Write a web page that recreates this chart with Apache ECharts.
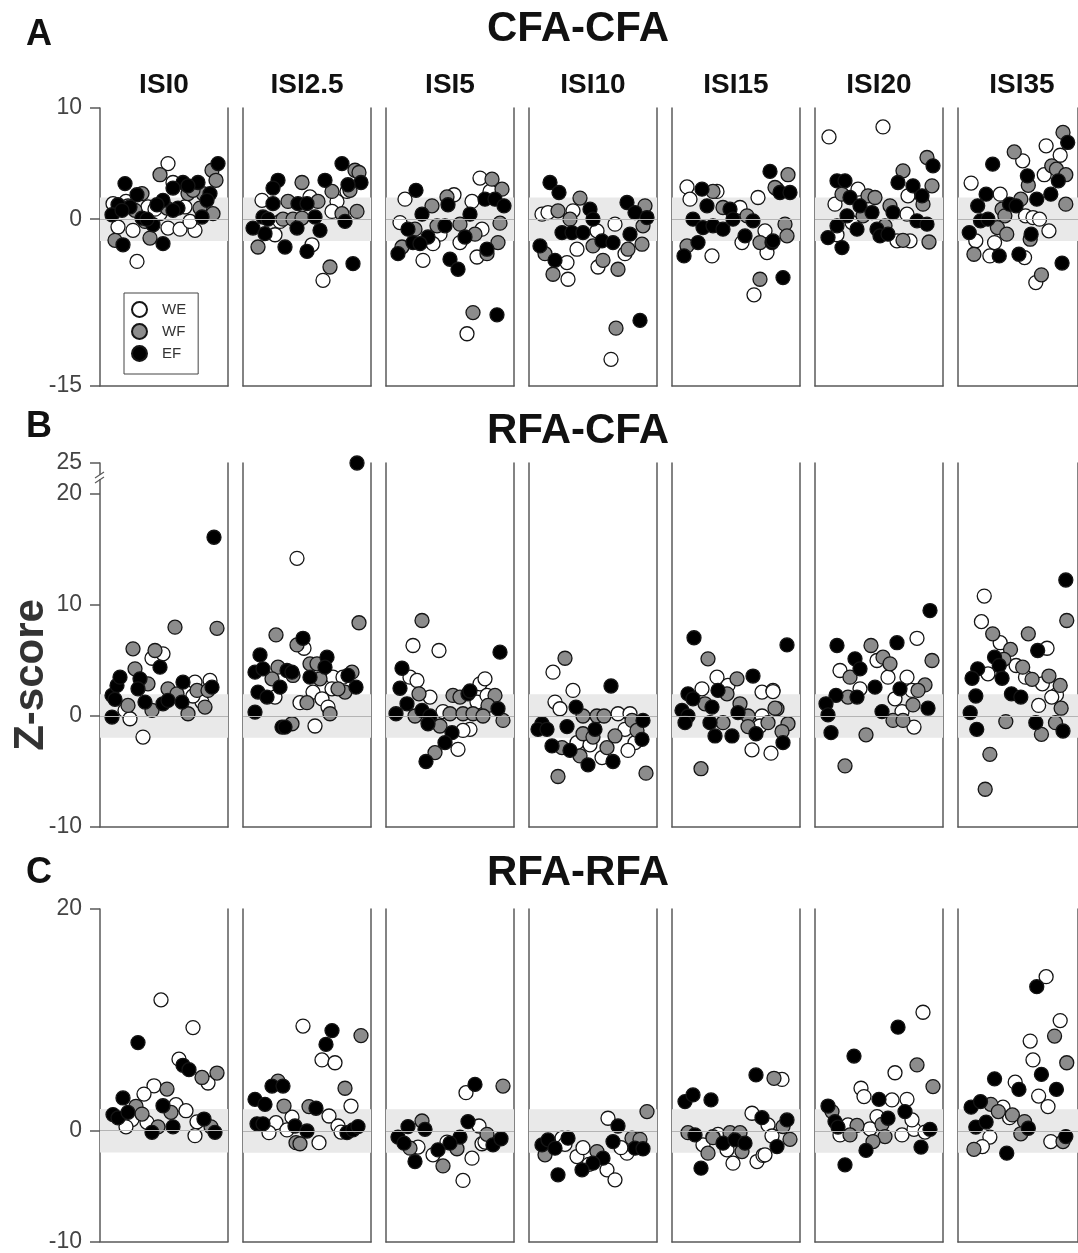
<!DOCTYPE html>
<html><head><meta charset="utf-8">
<script src="https://cdn.jsdelivr.net/npm/echarts@6.0.0/dist/echarts.min.js"></script>
<style>html,body{margin:0;padding:0;background:#fff}#c{width:1078px;height:1253px}</style>
</head><body><div id="c"></div>
<script>
// ---------------- DATA ----------------
const ISI = ['ISI0','ISI2.5','ISI5','ISI10','ISI15','ISI20','ISI35'];
const GROUPS = ['WE','WF','EF'];
const ROW_TITLES = ['CFA-CFA','RFA-CFA','RFA-RFA'];
const ROW_LETTERS = ['A','B','C'];
const TICKS_A = [-15,0,10];
const TICKS_B = [-10,0,10,20,25];
const TICKS_C = [-10,0,20];
// each point: [position within panel (0-128), z-score]
const CFA_CFA_WE = [
 [[68,5.0],[73,3.3],[13,1.4],[48,1.1],[18,-0.7],[33,-1.0],[68,-0.8],[80,-0.9],[95,-1.0],[90,-0.2],[37,-3.8],[60,0.5],[85,1.1],[26,1.6],[55,0.9]],
 [[19,1.7],[104,2.5],[67,2.0],[94,1.6],[89,0.7],[37,-0.2],[32,-1.4],[69,-2.3],[80,-5.5]],
 [[19,1.8],[94,3.7],[104,2.5],[68,2.2],[86,1.6],[14,-0.3],[96,-0.9],[54,-1.35],[47,-2.2],[74,-2.1],[37,-3.7],[91,-3.4],[81,-10.3]],
 [[13,0.45],[19,0.6],[44,0.75],[86,-0.45],[68,-1.05],[48,-2.7],[38,-3.9],[39,-5.4],[69,-4.3],[96,-3.1],[82,-12.6]],
 [[15,2.9],[45,2.5],[18,1.8],[86,1.95],[68,1.05],[93,-1.05],[70,-2.1],[95,-3.0],[40,-3.3],[82,-6.8]],
 [[14,7.4],[68,8.3],[43,2.7],[20,1.35],[93,2.1],[92,0.45],[22,-1.4],[82,-1.95],[95,-1.95],[37,-0.3]],
 [[94,6.6],[109,5.75],[69,5.25],[92,4.0],[14,3.25],[45,2.25],[72,0.3],[80,0.15],[87,0.0],[97,-1.05],[19,-1.95],[39,-2.1],[34,-3.3],[71,-3.45],[83,-5.7]]
];
const CFA_CFA_WF = [
 [[112,4.4],[116,3.5],[60,4.0],[88,2.3],[103,2.3],[42,2.3],[35,0.8],[67,1.0],[100,1.0],[113,0.5],[45,-0.2],[15,-1.9],[50,-1.7],[28,1.2],[93,2.6]],
 [[112,4.4],[116,4.2],[59,3.3],[89,2.5],[107,2.6],[75,1.6],[45,1.6],[114,0.7],[99,0.5],[40,0.0],[50,0.0],[59,0.1],[15,-2.5],[87,-4.3]],
 [[106,3.6],[116,2.7],[61,2.0],[46,1.2],[29,-0.9],[51,-0.6],[74,-0.45],[114,-0.36],[89,-1.35],[112,-2.1],[16,-2.5],[101,-3.1],[87,-8.4]],
 [[51,1.9],[29,0.75],[41,0.0],[116,1.2],[114,-0.6],[16,-3.1],[64,-2.4],[113,-2.25],[99,-2.7],[24,-4.95],[74,-3.7],[89,-4.5],[87,-9.8]],
 [[41,2.5],[105,2.7],[116,4.0],[103,2.85],[51,1.05],[75,0.3],[88,-2.1],[15,-2.4],[113,-0.45],[115,-1.5],[88,-5.4]],
 [[112,5.55],[88,4.35],[117,3.0],[27,2.25],[53,2.1],[60,1.95],[75,1.2],[108,1.35],[70,-0.6],[88,-1.9],[114,-2.05],[48,0.3]],
 [[112,7.8],[60,6.05],[100,4.8],[105,4.5],[75,3.05],[115,4.0],[67,1.8],[47,0.9],[115,1.35],[50,0.3],[42,-0.75],[52,-1.35],[77,-1.8],[17,-3.15],[89,-5.0]]
];
const CFA_CFA_EF = [
 [[118,5.0],[25,3.2],[83,3.3],[98,3.3],[73,2.8],[110,2.3],[37,2.2],[63,1.7],[18,1.3],[30,1.1],[57,1.3],[78,1.0],[107,1.7],[102,0.2],[12,0.4],[42,0.1],[53,-0.5],[23,-2.3],[63,-2.2],[73,0.8],[22,0.8],[47,0.0],[88,3.0]],
 [[99,5.0],[118,3.3],[35,3.5],[82,3.5],[30,2.8],[105,3.1],[30,1.4],[55,1.4],[64,1.4],[20,0.2],[10,-0.8],[25,0.0],[22,-1.3],[54,-0.8],[72,0.2],[77,-1.0],[102,-0.2],[42,-2.5],[64,-2.9],[110,-4.0]],
 [[30,2.6],[62,1.3],[36,0.45],[84,0.45],[99,1.8],[109,1.8],[118,1.2],[22,-0.9],[59,-0.6],[79,-1.6],[42,-1.6],[27,-2.1],[12,-3.1],[34,-2.2],[64,-3.6],[72,-4.5],[101,-2.7],[111,-8.6]],
 [[21,3.3],[30,2.4],[61,0.9],[64,0.0],[98,1.5],[106,0.6],[118,0.15],[11,-2.4],[33,-1.2],[43,-1.2],[54,-1.2],[73,-1.95],[84,-2.1],[101,-1.35],[26,-3.7],[111,-9.1]],
 [[30,2.7],[98,4.3],[108,2.4],[118,2.4],[35,1.2],[58,0.9],[21,0.0],[31,-0.75],[41,-0.6],[51,-0.9],[61,0.0],[81,-0.15],[73,-1.5],[100,-2.1],[26,-2.1],[12,-3.3],[101,-1.95],[111,-5.25]],
 [[118,4.8],[83,3.3],[98,3.0],[22,3.45],[30,3.45],[35,1.95],[107,2.1],[45,1.2],[57,0.6],[32,0.3],[78,0.6],[102,-0.15],[112,-0.45],[22,-0.6],[42,-0.9],[62,-0.9],[13,-1.65],[65,-1.5],[73,-1.35],[27,-2.55]],
 [[117,6.9],[37,4.95],[74,3.9],[107,3.45],[30,2.25],[99,2.25],[84,1.8],[55,1.35],[62,1.2],[21,1.2],[24,-0.15],[32,0.0],[12,-1.2],[78,-1.35],[44,-3.3],[65,-3.15],[111,-3.95]]
];
const RFA_CFA_WE = [
 [[25,0.5],[30,-0.25],[43,-1.9],[52,5.2],[63,5.6],[95,3.05],[102,1.25],[110,3.2],[93,1.8]],
 [[54,14.2],[61,6.1],[32,1.7],[90,3.5],[100,3.5],[89,2.45],[70,2.15],[79,1.55],[57,1.2],[85,0.8],[72,-0.9]],
 [[27,6.35],[53,5.9],[24,3.5],[31,3.2],[44,1.7],[84,-1.2],[77,-1.3],[91,1.25],[94,2.9],[99,3.35],[101,1.85],[57,0.4],[72,-3.0]],
 [[24,3.95],[44,2.3],[26,1.25],[31,0.65],[89,0.2],[101,0.2],[96,-1.2],[106,-2.4],[48,-2.4],[73,-3.75],[99,-3.1],[61,-2.6]],
 [[45,3.5],[30,2.45],[56,2.75],[90,2.15],[101,2.3],[90,0.0],[88,-0.9],[80,-3.05],[99,-3.35],[101,2.2]],
 [[102,7.0],[25,4.1],[62,5.0],[73,3.5],[92,3.5],[45,2.45],[80,1.55],[97,2.3],[87,0.4],[99,-1.0]],
 [[28,10.8],[25,8.5],[45,6.6],[95,6.1],[62,4.55],[72,3.5],[32,3.8],[90,2.9],[105,1.9],[100,1.7],[86,0.95]]
];
const RFA_CFA_WF = [
 [[33,6.05],[35,4.25],[48,2.9],[28,0.95],[52,0.5],[55,5.9],[68,2.45],[75,8.0],[77,2.0],[88,0.2],[97,2.3],[105,0.8],[108,2.3],[117,7.9]],
 [[116,8.4],[33,7.3],[54,6.4],[35,4.4],[29,3.35],[50,3.65],[67,4.7],[74,4.7],[77,3.35],[109,3.95],[102,2.15],[95,2.45],[64,1.2],[87,0.2],[49,-0.7]],
 [[36,8.6],[33,2.0],[29,0.0],[54,-0.9],[67,1.85],[74,1.7],[109,1.85],[102,0.95],[117,-0.4],[64,0.2],[77,0.2],[87,0.2],[97,0.0],[49,-3.3]],
 [[36,5.2],[54,0.0],[68,0.0],[75,0.0],[103,-0.4],[54,-1.6],[64,-1.9],[86,-1.8],[108,-1.3],[33,-2.85],[51,-3.6],[78,-2.85],[29,-5.45],[117,-5.15]],
 [[36,5.15],[65,3.35],[55,2.0],[33,1.1],[68,1.1],[51,-0.6],[76,0.0],[96,-0.6],[105,0.65],[76,-0.95],[29,-4.75],[103,0.7],[116,-0.7],[110,-1.4]],
 [[117,5.0],[56,6.35],[68,5.3],[75,4.7],[35,3.5],[110,2.8],[103,2.3],[33,1.7],[98,1.0],[78,-0.4],[88,-0.4],[51,-1.7],[30,-4.5]],
 [[116,8.6],[37,7.4],[75,7.4],[56,6.0],[49,5.1],[69,4.4],[79,3.3],[97,3.6],[109,2.75],[110,0.7],[51,-0.5],[104,-0.6],[89,-1.65],[34,-3.45],[29,-6.6]]
];
const RFA_CFA_EF = [
 [[12,-0.1],[12,1.85],[17,2.75],[20,3.5],[15,1.5],[40,3.35],[38,2.45],[45,1.25],[60,4.4],[63,1.1],[68,1.4],[83,3.05],[82,1.25],[112,2.6],[114,16.1]],
 [[114,25],[60,7.0],[17,5.5],[12,3.95],[20,4.25],[44,4.1],[49,3.95],[37,2.6],[15,2.15],[24,1.7],[67,3.5],[84,5.3],[82,4.4],[105,3.65],[113,2.6],[12,0.35],[39,-1.0],[42,-1.0]],
 [[114,5.75],[16,4.3],[14,2.5],[21,1.1],[10,0.2],[36,0.5],[44,0.0],[42,-0.7],[66,-1.5],[82,2.0],[84,2.25],[112,0.65],[59,-2.4],[40,-4.1]],
 [[82,2.7],[47,0.8],[13,-0.7],[9,-1.2],[18,-1.2],[38,-0.95],[114,-0.4],[66,-1.2],[113,-2.1],[23,-2.7],[41,-3.1],[59,-4.4],[84,-4.1]],
 [[22,7.05],[81,3.6],[16,2.0],[21,1.55],[46,2.3],[40,0.8],[10,0.5],[16,0.0],[13,-0.6],[38,-0.6],[66,0.3],[43,-1.8],[60,-1.8],[84,-1.6],[115,6.4],[111,-2.4]],
 [[115,9.5],[22,6.35],[82,6.6],[40,5.15],[45,4.25],[60,2.6],[85,2.45],[21,1.85],[11,1.1],[42,1.7],[113,0.7],[67,0.4],[13,0.1],[16,-1.5]],
 [[115,12.25],[85,5.9],[39,5.3],[44,4.55],[21,4.25],[15,3.4],[47,3.4],[57,2.0],[67,1.7],[19,1.8],[13,0.3],[83,-0.6],[20,-1.2],[112,-1.35]]
];
const RFA_RFA_WE = [
 [[61,11.8],[93,9.3],[79,6.45],[108,4.3],[54,4.05],[44,3.3],[76,2.35],[86,1.8],[32,1.0],[26,0.35],[47,0.75],[97,0.8],[95,-0.45]],
 [[60,9.45],[79,6.4],[92,6.15],[108,2.25],[49,1.25],[86,1.35],[33,0.75],[26,-0.15],[44,0.1],[95,0.45],[98,-0.1],[76,-1.05]],
 [[80,3.45],[93,0.45],[32,-1.45],[47,-2.15],[61,-1.0],[96,-1.15],[99,-1.0],[86,-2.45],[77,-4.45]],
 [[79,1.15],[98,-2.0],[92,-1.5],[33,-0.65],[36,-1.2],[48,-2.3],[54,-1.5],[60,-3.0],[78,-3.5],[86,-4.4]],
 [[80,1.6],[96,0.55],[46,-0.3],[41,-0.5],[55,-1.7],[31,-1.25],[61,-2.9],[85,-2.75],[91,-2.2],[100,-0.45],[110,4.65],[93,-2.15]],
 [[108,10.7],[80,5.25],[46,3.85],[49,3.1],[77,2.8],[92,2.85],[33,0.55],[25,-0.35],[55,0.2],[62,1.3],[87,-0.35],[99,0.15],[97,1.0],[110,-0.1]],
 [[94,13.9],[109,9.95],[77,8.1],[80,6.4],[61,4.4],[86,3.15],[96,2.2],[48,2.15],[55,1.2],[34,-0.55],[26,-1.4],[99,-0.95]]
];
const RFA_RFA_WF = [
 [[102,4.8],[117,5.2],[67,3.75],[71,1.65],[36,2.2],[42,1.5],[58,0.35],[111,0.35]],
 [[118,8.6],[35,4.5],[102,3.85],[41,2.25],[66,2.2],[53,-1.05],[57,-1.15]],
 [[117,4.05],[36,0.9],[101,-0.3],[24,-1.55],[71,-1.6],[57,-3.15]],
 [[118,1.75],[103,-0.65],[111,-0.75],[16,-2.15],[68,-1.85]],
 [[102,4.75],[16,-0.15],[58,-0.15],[68,-0.15],[41,-0.6],[70,-1.85],[36,-2.0],[111,0.4],[118,-0.75]],
 [[102,5.95],[118,4.0],[17,1.75],[42,0.5],[35,-0.35],[67,0.6],[70,-0.5],[58,-0.95]],
 [[103,8.55],[116,6.15],[35,2.4],[43,1.75],[58,1.45],[71,0.85],[67,-0.25],[17,-1.65],[112,-0.95]]
];
const RFA_RFA_EF = [
 [[38,7.95],[83,5.9],[89,5.5],[23,2.95],[63,2.25],[13,1.45],[18,1.15],[28,1.65],[52,-0.15],[73,0.35],[104,1.05],[115,-0.15]],
 [[89,9.05],[83,7.8],[29,4.05],[40,4.05],[12,2.85],[22,2.4],[73,2.05],[14,0.65],[20,0.65],[52,0.45],[64,0.0],[104,-0.15],[110,0.1],[115,0.4]],
 [[89,4.2],[22,0.4],[39,0.15],[82,0.85],[12,-0.55],[18,-1.1],[74,-0.55],[64,-1.1],[52,-1.7],[107,-1.25],[115,-0.7],[29,-2.75]],
 [[89,0.45],[84,-0.95],[106,-1.55],[114,-1.6],[13,-1.25],[19,-0.8],[26,-1.55],[39,-0.65],[74,-2.45],[64,-2.9],[53,-3.5],[29,-3.95]],
 [[84,5.05],[13,2.65],[21,3.25],[39,2.8],[90,1.2],[23,-0.35],[51,-1.1],[63,-0.8],[73,-1.1],[29,-3.35],[115,1.0],[105,-1.4]],
 [[83,9.35],[39,6.75],[64,2.85],[90,1.75],[13,2.25],[20,0.85],[23,0.35],[73,1.15],[115,0.15],[51,-1.75],[106,-1.45],[30,-3.05]],
 [[84,13.0],[89,5.1],[39,4.7],[65,3.75],[105,3.75],[14,2.15],[24,2.65],[75,0.25],[19,0.35],[30,0.8],[52,-2.0],[115,-0.5]]
];
const BAND = [-1.96, 1.96];

// ---------------- LAYOUT / STYLE ----------------
const FONT = '"Liberation Sans", Arial, Helvetica, sans-serif';
const LINE = '#5a5a5a';
const FILL = {WE:'#ffffff', WF:'#8c8c8c', EF:'#000000'};
const P_LEFT = 100, P_STEP = 143, P_W = 128;
const rows = [
  {top:108, height:278, min:-15, max:10, ticks:TICKS_A, data:[CFA_CFA_WE, CFA_CFA_WF, CFA_CFA_EF]},
  {top:463, height:364, min:-10, max:25, ticks:TICKS_B, breaks:[{start:20, end:25, gap:2.79}], data:[RFA_CFA_WE, RFA_CFA_WF, RFA_CFA_EF]},
  {top:909, height:333, min:-10, max:20, ticks:TICKS_C, data:[RFA_RFA_WE, RFA_RFA_WF, RFA_RFA_EF]}
];

const grid=[], xAxis=[], yAxis=[], series=[];
const lineStyle = {color:LINE, width:1.5};
rows.forEach((row, r) => {
  ISI.forEach((name, c) => {
    const g = r*7 + c;
    grid.push({left:P_LEFT + c*P_STEP, top:row.top, width:P_W, height:row.height, containLabel:false});
    xAxis.push({type:'value', gridIndex:g, min:0, max:128, axisLine:{show:true, onZero:false, lineStyle},
      axisTick:{show:false}, axisLabel:{show:false}, splitLine:{show:false}});
    // data axis (carries the scale, ticks and labels)
    const yData = {type:'value', gridIndex:g, min:row.min, max:row.max, position:'left', splitLine:{show:false},
      axisLine:{show:false, onZero:false},
      axisTick:{show:c===0, customValues:row.ticks, length:10, lineStyle},
      axisLabel:{show:c===0, customValues:row.ticks, margin:18, fontSize:23, color:'#444', fontFamily:FONT}};
    if (row.breaks) { yData.breaks = row.breaks; yData.breakArea = {show:false}; }
    yAxis.push(yData);
    // panel frame lines (continuous)
    ['left','right'].forEach(pos => yAxis.push({type:'value', gridIndex:g, min:row.min, max:row.max, position:pos,
      splitLine:{show:false}, axisLine:{show:true, onZero:false, lineStyle}, axisTick:{show:false}, axisLabel:{show:false}}));
    const yi = 3*g;
    series.push({type:'scatter', xAxisIndex:g, yAxisIndex:yi, data:[], silent:true, z:1,
      markArea:{silent:true, itemStyle:{color:'#e9e9e9'}, data:[[{yAxis:BAND[0]},{yAxis:BAND[1]}]]},
      markLine:{silent:true, symbol:['none','none'], label:{show:false}, lineStyle:{color:'#b4b4b4', width:1, type:'solid'}, data:[{yAxis:0}]}});
    GROUPS.forEach((grp, k) => {
      series.push({type:'scatter', name:grp, xAxisIndex:g, yAxisIndex:yi, z:3, symbolSize:14,
        itemStyle:{color:FILL[grp], borderColor:'#151515', borderWidth:1.3, opacity:1},
        data:row.data[k][c]});
    });
  });
});

const graphic = [];
const txt = (x, y, text, size) => graphic.push({type:'text', x, y, style:{text, fontSize:size, fontWeight:'bold', fontFamily:FONT, fill:'#111', align:'center', verticalAlign:'middle'}});
ROW_LETTERS.forEach((L, i) => txt(39, [35, 427, 873][i], L, 36));
ROW_TITLES.forEach((T, i) => txt(578, [29, 431, 873][i], T, 42));
ISI.forEach((s, c) => txt(P_LEFT + c*P_STEP + P_W/2, 85, s, 28));
graphic.push({type:'text', x:31, y:675, rotation:Math.PI/2, style:{text:'Z-score', fontSize:42, fontWeight:'bold', fontFamily:FONT, fill:'#333', align:'center', verticalAlign:'middle'}});
// axis-break marks on the row-B axis
graphic.push({type:'rect', shape:{x:96, y:475, width:8, height:4}, style:{fill:'#fff'}, z:100});
graphic.push({type:'line', shape:{x1:95, y1:478, x2:104, y2:472}, style:{stroke:LINE, lineWidth:1.2}, z:101});
graphic.push({type:'line', shape:{x1:95, y1:483, x2:104, y2:477}, style:{stroke:LINE, lineWidth:1.2}, z:101});

const chart = echarts.init(document.getElementById('c'), null, {renderer:'canvas'});
chart.setOption({
  animation:false,
  backgroundColor:'#fff',
  grid, xAxis, yAxis, series, graphic,
  legend:{data:GROUPS, orient:'vertical', left:124, top:293, padding:[8,12,12,7], itemWidth:15, itemHeight:15, itemGap:5,
    icon:'circle', borderColor:'#444', borderWidth:1, selectedMode:false,
    textStyle:{fontSize:15, lineHeight:15, color:'#333', fontFamily:FONT, padding:[0,0,0,10]}}
});
</script></body></html>
